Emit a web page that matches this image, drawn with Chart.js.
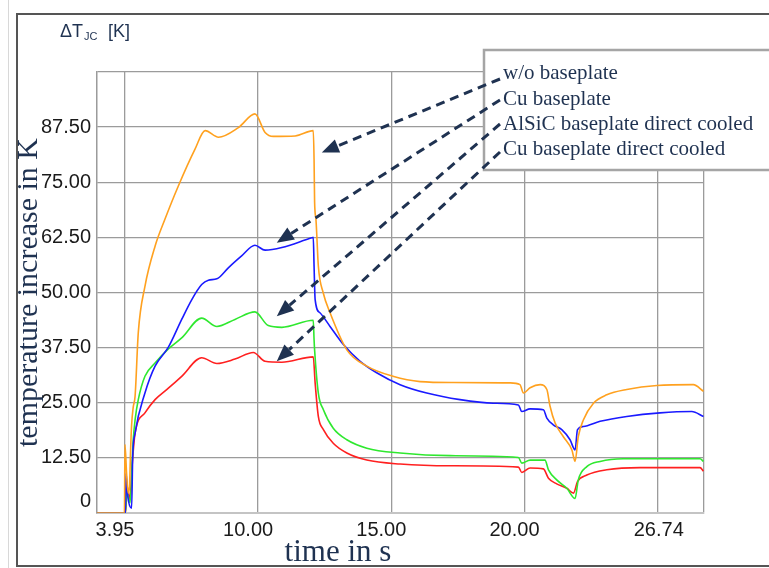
<!DOCTYPE html>
<html>
<head>
<meta charset="utf-8">
<script src="https://cdn.jsdelivr.net/npm/chart.js@4.4.1/dist/chart.umd.min.js"></script>
<style>
body{margin:0;background:#fff;}
canvas{display:block;}
</style>
</head>
<body>
<canvas id="chart" width="769" height="568" style="width:769px;height:568px"></canvas>
<script>
// junction-to-case temperature rise (K) over time (s) for four baseplate variants
var woTime = [3.95, 4.98, 5.00, 5.06, 5.12, 5.17, 5.21, 5.25, 5.31, 5.38, 5.50, 5.75, 6.13, 6.50, 7.00, 7.63, 8.01, 8.51, 9.26, 9.88, 10.26, 10.57, 11.39, 12.07, 12.10, 12.12, 12.17, 12.26, 12.44, 12.70, 13.33, 14.08, 15.06, 16.08, 17.32, 19.46, 19.83, 19.96, 20.21, 20.59, 20.84, 20.96, 21.15, 21.46, 21.78, 21.90, 22.02, 22.21, 22.59, 23.09, 23.84, 24.97, 26.34, 26.72]
var woTemp = [0, 0, 15.5, 9, 4.5, 6, 14, 20, 24, 26.5, 40.9, 51.4, 60.5, 66.6, 74.1, 82.5, 86.7, 85.2, 87.4, 90.5, 86.3, 85.4, 85.5, 86.7, 80.2, 70.5, 66.6, 56, 50, 45.4, 37, 33.3, 31, 29.8, 29.6, 29.5, 29.1, 27.2, 28.4, 29.1, 28, 24.2, 20.4, 17.3, 14.3, 11.7, 17.3, 21.1, 24.9, 26.8, 28, 28.9, 29.1, 27.6]

var cuTime = [3.95, 5.02, 5.04, 5.10, 5.25, 5.29, 5.38, 5.75, 6.13, 6.63, 7.13, 7.51, 7.88, 8.13, 8.45, 8.88, 9.38, 9.88, 10.26, 10.89, 12.01, 12.07, 12.10, 12.14, 12.32, 12.70, 13.20, 13.83, 14.45, 15.33, 16.33, 17.58, 18.83, 19.77, 19.90, 20.21, 20.71, 20.84, 21.08, 21.40, 21.71, 21.90, 21.99, 22.21, 22.84, 23.84, 25.09, 26.28, 26.72]
var cuTemp = [0, 0, 9, 4, 1.1, 12.8, 18.1, 27.2, 33.3, 37.6, 43.9, 48.4, 51.8, 52.8, 53.1, 55.6, 58.3, 60.7, 59.6, 60.2, 62.4, 62.5, 56, 48.4, 45.4, 42.3, 38.2, 34.4, 31.8, 29.1, 27.2, 25.7, 24.9, 24.5, 23, 23.6, 23.4, 21.5, 20, 18.9, 16.6, 14.3, 18.9, 19.6, 20.8, 21.9, 22.7, 23, 21.9]

var alsicTime = [3.95, 5.02, 5.06, 5.19, 5.31, 5.38, 5.50, 5.75, 6.13, 6.63, 7.13, 7.88, 8.45, 9.13, 9.88, 10.38, 10.89, 12.07, 12.10, 12.12, 12.26, 12.45, 12.82, 13.33, 14.08, 15.33, 17.21, 19.77, 19.90, 20.21, 20.77, 20.90, 21.21, 21.59, 21.90, 22.02, 22.34, 22.84, 23.71, 26.59, 26.72]
var alsicTemp = [0, 0, 5.2, 2.3, 16.6, 21.1, 25.7, 31, 34, 37.2, 39.7, 44.2, 42.3, 43.9, 45.6, 42.5, 42.1, 43.7, 39.3, 37, 27.2, 23.4, 19.2, 16.6, 14.7, 13.6, 13, 12.6, 11.3, 12, 12, 9.8, 7.5, 5.6, 3.3, 7.5, 10.5, 11.7, 12.3, 12.3, 11.7]

var cuDcTime = [3.95, 5.02, 5.08, 5.19, 5.26, 5.38, 5.75, 6.13, 6.63, 7.13, 7.88, 8.45, 9.13, 9.82, 10.26, 10.89, 12.07, 12.14, 12.26, 12.45, 12.82, 13.33, 14.08, 15.33, 17.21, 19.77, 19.90, 20.21, 20.71, 20.90, 21.21, 21.59, 21.84, 21.99, 22.34, 23.09, 24.34, 26.59, 26.72]
var cuDcTemp = [0, 0, 6, 3, 10, 18.1, 22.7, 25.7, 28.3, 31, 35.2, 33.9, 34.9, 36.4, 34.4, 34.2, 35.4, 29.5, 21.9, 18.9, 15.8, 13.6, 12, 11.1, 10.7, 10.4, 9.2, 10.2, 10, 7.9, 6.6, 5.6, 4.5, 7.1, 8.6, 9.8, 10.3, 10.3, 9.5]

var seriesNames = ['w/o baseplate', 'Cu baseplate', 'AlSiC baseplate direct cooled', 'Cu baseplate direct cooled']
var seriesColors = ['#ffa11f', '#1a1aff', '#2fe82f', '#ff2020']

var xTickValues = [3.95, 5, 10, 15, 20, 25, 26.74]
var xTickLabels = ['', '3.95', '10.00', '15.00', '20.00', '    26.74', '']
var yTickValues = [0, 12.5, 25, 37.5, 50, 62.5, 75, 87.5, 100]
var yTickLabels = [['0', ''], '12.50', '25.00', '37.50', '50.00', '62.50', '75.00', '87.50', '']

// where each legend arrow points (time, K)
var arrowTime = [12.39, 10.70, 10.70, 10.70]
var arrowTemp = [81.75, 61.3, 44.6, 34.4]

var navy = '#1f3251'
var sans = '"Liberation Sans", Arial, sans-serif'
var serif = '"Liberation Serif", "Times New Roman", serif'

function toPoints(t, v){
    return t.map(function(x, i){ return {x: x, y: v[i]} })
}

var allTimes = [woTime, cuTime, alsicTime, cuDcTime]
var allTemps = [woTemp, cuTemp, alsicTemp, cuDcTemp]
var datasets = []
for (var i = 0; i < 4; i++){
    datasets.push({
        label: seriesNames[i],
        data: toPoints(allTimes[i], allTemps[i]),
        borderColor: seriesColors[i],
        borderWidth: 1.6,
        pointRadius: 0,
        cubicInterpolationMode: 'monotone'
    })
}

function drawArrow(ctx, x0, y0, x1, y1){
    var ang = Math.atan2(y1 - y0, x1 - x0)
    var head = 17, half = 7
    var bx = x1 - head * Math.cos(ang), by = y1 - head * Math.sin(ang)
    ctx.setLineDash([9, 6])
    ctx.beginPath()
    ctx.moveTo(x0, y0)
    ctx.lineTo(bx, by)
    ctx.stroke()
    ctx.setLineDash([])
    ctx.beginPath()
    ctx.moveTo(x1, y1)
    ctx.lineTo(bx + half * Math.sin(ang), by - half * Math.cos(ang))
    ctx.lineTo(bx - half * Math.sin(ang), by + half * Math.cos(ang))
    ctx.closePath()
    ctx.fill()
}

var framePlugin = {
    id: 'frame',
    beforeDraw: function(chart){
        var ctx = chart.ctx
        ctx.save()
        ctx.fillStyle = '#fff'
        ctx.fillRect(0, 0, chart.width, chart.height)
        ctx.strokeStyle = '#d8d8d8'
        ctx.lineWidth = 1
        ctx.beginPath()
        ctx.moveTo(8.5, 0)
        ctx.lineTo(8.5, chart.height)
        ctx.stroke()
        ctx.strokeStyle = '#555'
        ctx.lineWidth = 2
        ctx.strokeRect(17, 14, chart.width, 552)
        ctx.restore()
    },
    afterDatasetsDraw: function(chart){
        var ctx = chart.ctx
        var xs = chart.scales.x, ys = chart.scales.y
        ctx.save()
        // legend box
        ctx.fillStyle = '#fff'
        ctx.fillRect(484, 50, 300, 120)
        ctx.strokeStyle = '#a5a5a5'
        ctx.lineWidth = 2.5
        ctx.strokeRect(484, 50, 300, 120)
        ctx.fillStyle = navy
        ctx.font = '21px ' + serif
        ctx.textBaseline = 'alphabetic'
        var baselines = [79, 105, 130, 155]
        for (var i = 0; i < seriesNames.length; i++){
            ctx.fillText(seriesNames[i], 503, baselines[i])
        }
        // dashed arrows from the labels to their curves
        var starts = [79, 100, 124, 152]
        ctx.strokeStyle = navy
        ctx.fillStyle = navy
        ctx.lineWidth = 3
        for (var j = 0; j < 4; j++){
            drawArrow(ctx, 500, starts[j], xs.getPixelForValue(arrowTime[j]), ys.getPixelForValue(arrowTemp[j]))
        }
        ctx.restore()
    },
    afterDraw: function(chart){
        var ctx = chart.ctx
        ctx.save()
        ctx.fillStyle = navy
        ctx.textBaseline = 'alphabetic'
        ctx.font = '18px ' + sans
        ctx.fillText('\u0394T', 60, 37)
        ctx.font = '11px ' + sans
        ctx.fillText('JC', 84, 40)
        ctx.font = '18px ' + sans
        ctx.fillText('[K]', 108, 37)
        // x axis title
        ctx.font = '31px ' + serif
        ctx.textAlign = 'center'
        ctx.fillText('time in s', 338, 561)
        ctx.restore()
    }
}

var chart = new Chart(document.getElementById('chart'), {
    type: 'line',
    data: {datasets: datasets},
    options: {
        responsive: false,
        animation: false,
        layout: {padding: {top: 72, right: 65, left: 0, bottom: 0}},
        plugins: {
            legend: {display: false},
            tooltip: {enabled: false}
        },
        scales: {
            x: {
                type: 'linear',
                min: 3.95,
                max: 26.74,
                afterBuildTicks: function(s){ s.ticks = xTickValues.map(function(v){ return {value: v} }) },
                afterFit: function(s){ s.height = 55 },
                ticks: {
                    autoSkip: false,
                    maxRotation: 0,
                    padding: 5,
                    labelOffset: -10,
                    color: '#1a1a1a',
                    font: {family: sans, size: 20},
                    callback: function(v, i){ return xTickLabels[i] }
                },
                grid: {color: '#9b9b9b', lineWidth: 1.3, drawTicks: false},
                border: {color: '#c4c4c4', width: 2}
            },
            y: {
                min: 0,
                max: 100,
                afterBuildTicks: function(s){ s.ticks = yTickValues.map(function(v){ return {value: v} }) },
                afterFit: function(s){ s.width = 97 },
                ticks: {
                    autoSkip: false,
                    padding: 6,
                    color: '#1a1a1a',
                    font: {family: sans, size: 20},
                    callback: function(v, i){ return yTickLabels[i] }
                },
                grid: {color: '#9b9b9b', lineWidth: 1.3, drawTicks: false},
                border: {color: '#9b9b9b', width: 1.3},
                title: {
                    display: true,
                    text: 'temperature increase in K',
                    color: navy,
                    font: {family: serif, size: 30, lineHeight: 1},
                    padding: {top: 14, bottom: 0}
                }
            }
        }
    },
    plugins: [framePlugin]
})
</script>
</body>
</html>
